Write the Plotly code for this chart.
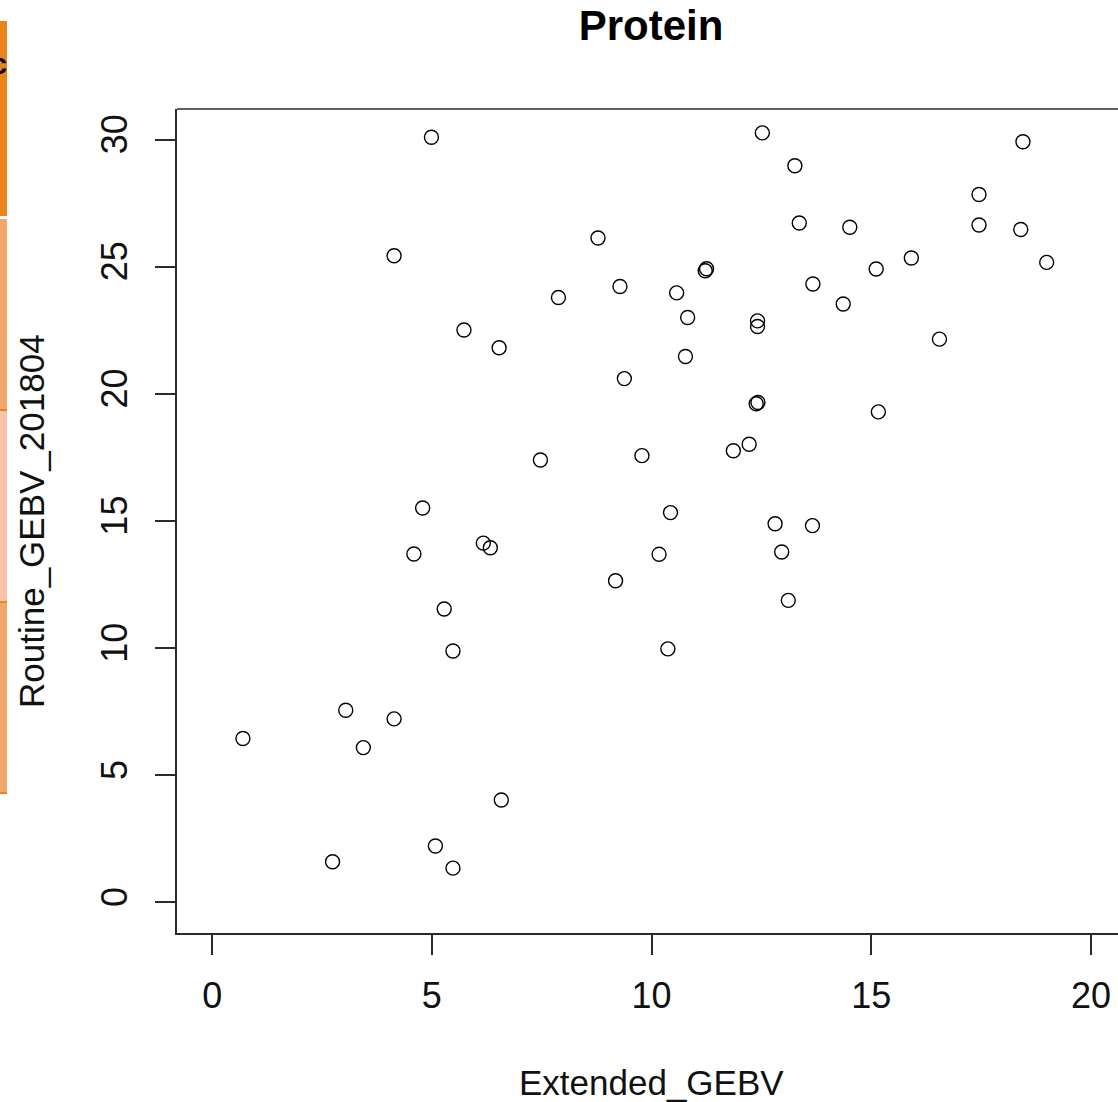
import plotly.graph_objects as go

# ---- data ----
extended_gebv = [
    0.70, 2.74, 3.04, 3.44, 4.14, 4.14, 4.59, 4.79, 4.99, 5.08,
    5.28, 5.48, 5.48, 5.73, 6.17, 6.33, 6.53, 6.58, 7.47, 7.88,
    8.78, 9.18, 9.28, 9.38, 9.78, 10.17, 10.37, 10.43, 10.57, 10.77,
    10.82, 11.22, 11.25, 11.86, 12.22, 12.38, 12.42, 12.41, 12.41, 12.52,
    12.81, 12.96, 13.11, 13.26, 13.36, 13.67, 13.66, 14.36, 14.51, 15.11,
    15.16, 15.91, 16.55, 17.45, 17.45, 18.40, 18.45, 18.99,
]
routine_gebv_201804 = [
    6.45, 1.60, 7.56, 6.09, 7.22, 25.43, 13.70, 15.51, 30.09, 2.22,
    11.54, 9.89, 1.35, 22.51, 14.13, 13.95, 21.81, 4.03, 17.40, 23.79,
    26.13, 12.65, 24.22, 20.60, 17.57, 13.69, 9.97, 15.33, 23.97, 21.47,
    23.00, 24.84, 24.92, 17.76, 18.02, 19.61, 19.66, 22.87, 22.65, 30.26,
    14.89, 13.78, 11.88, 28.97, 26.72, 24.32, 14.82, 23.53, 26.55, 24.91,
    19.29, 25.34, 22.15, 27.84, 26.64, 26.46, 29.91, 25.17,
]
x_ticks = [0, 5, 10, 15, 20]
y_ticks = [0, 5, 10, 15, 20, 25, 30]
title_text = "Protein"
x_label = "Extended_GEBV"
y_label = "Routine_GEBV_201804"

# ---- layout geometry (pixels) ----
W, H = 1118, 1102
ML, MR, MT, MB = 177, 0, 109, 169
PW, PH = W - ML - MR, H - MT - MB


def px(xp):
    return (xp - ML) / PW


def py(yp):
    return (H - MB - yp) / PH


FONT = "Liberation Sans, Arial, sans-serif"
LINE = "#2b2b2b"

fig = go.Figure()
fig.add_trace(go.Scatter(
    x=extended_gebv, y=routine_gebv_201804, mode="markers",
    marker=dict(symbol="circle-open", size=14, color="black",
                line=dict(width=1.4, color="black")),
    showlegend=False, hoverinfo="x+y",
))

shapes = [
    # top border of the plot box (right edge lies outside the window)
    dict(type="line", xref="paper", yref="paper", x0=0, x1=1, y0=1, y1=1,
         line=dict(color=LINE, width=1.6)),
]
# orange strip of the background window at the far left
strip = [
    (21, 216, "#E8841A"),
    (219, 410, "#F0A868"),
    (410, 602, "#F8C2A6"),
    (602, 792, "#F0A868"),
]
for top, bot, col in strip:
    shapes.append(dict(type="rect", xref="paper", yref="paper",
                       x0=px(0), x1=px(7), y0=py(bot), y1=py(top),
                       fillcolor=col, line=dict(width=0), layer="below"))
for yy in (410, 602, 793):
    shapes.append(dict(type="line", xref="paper", yref="paper",
                       x0=px(0), x1=px(7), y0=py(yy), y1=py(yy),
                       line=dict(color="#E8841A", width=2)))

annotations = [
    dict(text=x_label, xref="paper", yref="paper", x=px(651), y=py(1082),
         xanchor="center", yanchor="middle", showarrow=False,
         font=dict(family=FONT, size=35, color="#111")),
    dict(text=y_label, xref="paper", yref="paper", x=px(31), y=py(521),
         xanchor="center", yanchor="middle", showarrow=False, textangle=-90,
         font=dict(family=FONT, size=35, color="#111")),
    dict(text="<b>c</b>", xref="paper", yref="paper", x=px(9), y=py(64),
         xanchor="right", yanchor="middle", showarrow=False,
         font=dict(family=FONT, size=29, color="black")),
]

fig.update_layout(
    width=W, height=H,
    margin=dict(l=ML, r=MR, t=MT, b=MB, pad=0),
    paper_bgcolor="white", plot_bgcolor="white",
    title=dict(text="<b>" + title_text + "</b>", x=651 / W, xref="container",
               y=1 - 25 / H, yref="container", xanchor="center", yanchor="middle",
               font=dict(family=FONT, size=42, color="black")),
    xaxis=dict(range=[-0.8, 20.613], tickvals=x_ticks, ticks="outside",
               ticklen=20, tickwidth=1.6, tickcolor=LINE, showgrid=False,
               zeroline=False, showline=True, linecolor=LINE, linewidth=1.6,
               tickfont=dict(family=FONT, size=36, color="#111"),
               ticklabelstandoff=10),
    yaxis=dict(range=[-1.2, 31.2], tickvals=y_ticks, ticks="outside",
               ticklen=20, tickwidth=1.6, tickcolor=LINE, showgrid=False,
               zeroline=False, showline=True, linecolor=LINE, linewidth=1.6,
               tickangle=-90,
               tickfont=dict(family=FONT, size=36, color="#111"),
               ticklabelstandoff=14),
    shapes=shapes,
    annotations=annotations,
)

fig.write_html(
    "out.html",
    config={"displayModeBar": False},
    post_script="document.body.style.margin='0px';document.body.style.overflow='hidden';",
)
